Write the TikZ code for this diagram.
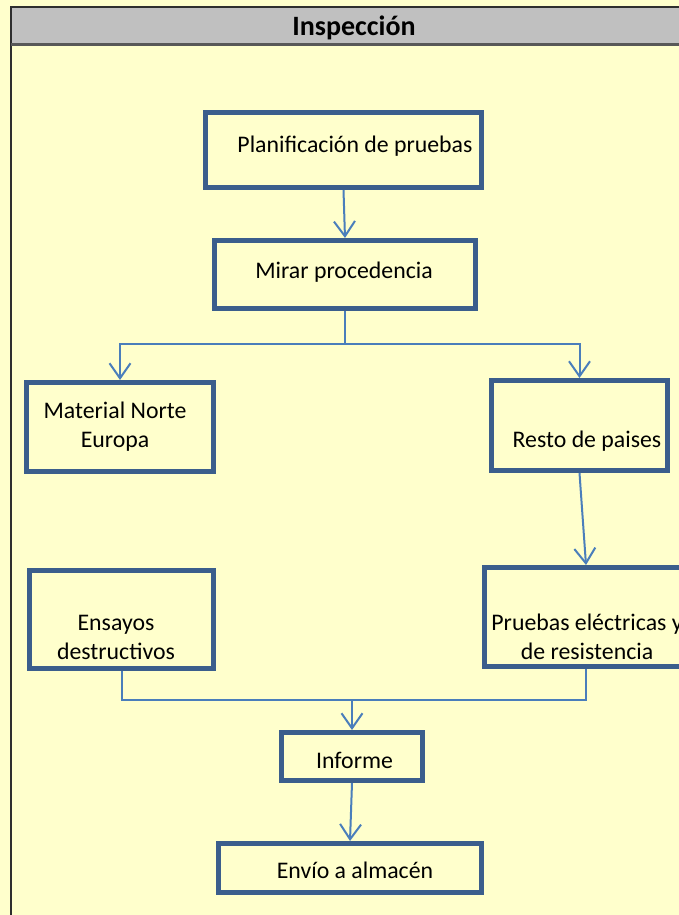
\documentclass[tikz,border=0pt]{standalone}
\usepackage{fontspec}
\setmainfont{Carlito}
\usetikzlibrary{arrows.meta}
\definecolor{bgyel}{HTML}{FFFFCC}
\definecolor{hdrgray}{HTML}{C0C0C0}
\definecolor{boxblue}{HTML}{3B5E8C}
\definecolor{arrblue}{HTML}{4A7EBB}
\definecolor{frameline}{HTML}{2E2E2E}
\tikzset{
  box/.style={draw=boxblue, line width=5pt, inner sep=0pt, outer sep=2.5pt, rectangle},
  txt/.style={inner sep=0pt, outer sep=0pt, anchor=base, align=center, text=black,
              font=\fontsize{23.8}{29}\selectfont},
  conn/.style={draw=arrblue, line width=2pt},
  arr/.style={conn, -{Straight Barb[length=15pt,width=21pt,line width=2pt]}},
}
\begin{document}
\begin{tikzpicture}[x=1pt,y=-1pt]
\useasboundingbox (0,0) rectangle (679,915);
\clip (0,0) rectangle (679,915);
\fill[bgyel] (0,0) rectangle (679,915);
% header band and frame
\fill[hdrgray] (11,7) rectangle (700,44);
\draw[frameline, line width=2.5pt] (700,7) -- (11,7) -- (11,940);
\draw[frameline!80, line width=3pt] (11,44.5) -- (700,44.5);
\node[inner sep=0pt, anchor=base, font=\fontsize{28}{32}\selectfont\bfseries] (title) at (354,36) {Inspección};
% boxes
\node[box, minimum width=276pt, minimum height=75pt] (plan) at (343.5,150) {};
\node[box, minimum width=261pt, minimum height=68pt] (mirar) at (345,274.5) {};
\node[box, minimum width=187pt, minimum height=89pt] (norte) at (120,427) {};
\node[box, minimum width=176pt, minimum height=90pt] (resto) at (579.5,425.5) {};
\node[box, minimum width=184pt, minimum height=98pt] (ensayos) at (121.5,619.5) {};
\node[box, minimum width=203pt, minimum height=99pt] (pruebas) at (586,617) {};
\node[box, minimum width=141pt, minimum height=48pt] (informe) at (352,756.5) {};
\node[box, minimum width=263pt, minimum height=49pt] (envio) at (350,868) {};
% texts (multi-line texts: base is the baseline of the last line)
\node[txt] (tplan) at (355,153) {Planificación de pruebas};
\node[txt] (tmirar) at (344,278) {Mirar procedencia};
\node[txt] (tnorte) at (115,447) {Material Norte\\Europa};
\node[txt] (tresto) at (587,447) {Resto de paises};
\node[txt] (tensayos) at (116,659) {Ensayos\\destructivos};
\node[txt] (tpruebas) at (587,659) {Pruebas eléctricas y\\de resistencia};
\node[txt] (tinforme) at (354.5,768) {Informe};
\node[txt] (tenvio) at (355,878) {Envío a almacén};
% connectors
\coordinate (br) at (345,344);
\coordinate (jn) at (352,700);
\draw[arr] (plan.south) -- (mirar.north);
\draw[conn] (mirar.south) -- (br);
\draw[arr] (br) -| (norte.north);
\draw[arr] (br) -| (resto.north);
\draw[arr] (resto.south) -- (pruebas.north);
\draw[conn] (ensayos.south) |- (jn);
\draw[conn] (pruebas.south) |- (jn);
\draw[arr] (jn) -- (informe.north);
\draw[arr] (informe.south) -- (envio.north);
\end{tikzpicture}
\end{document}
